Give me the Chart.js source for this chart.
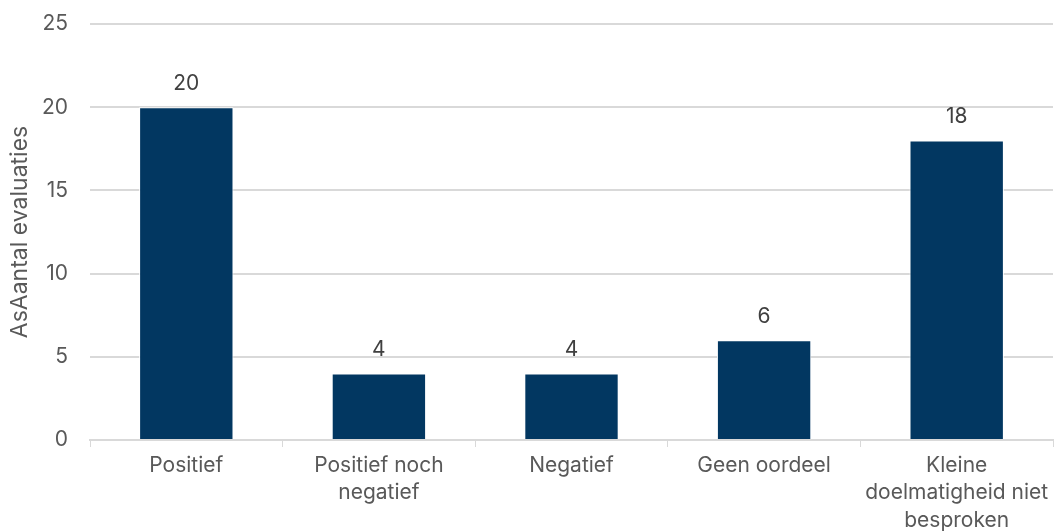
<!DOCTYPE html>
<html>
<head>
<meta charset="utf-8">
<script src="https://cdn.jsdelivr.net/npm/chart.js@4/dist/chart.umd.min.js"></script>
<style>
  html, body { margin: 0; padding: 0; background: #fff; }
  #wrap { width: 1056px; height: 532px; }
</style>
</head>
<body>
<div id="wrap"><canvas id="myChart" width="1056" height="532"></canvas></div>
<script>
const labels = [
    'Positief',
    ['Positief noch', 'negatief'],
    'Negatief',
    'Geen oordeel',
    ['Kleine', 'doelmatigheid niet', 'besproken'],
];
const evaluaties = [20, 4, 4, 6, 18];
const yTicks = [0, 5, 10, 15, 20, 25];

const textColor = '#595959';
const barColor = '#023761';
const fontSize = 21;

// simple value labels above each bar
const valueLabels = {
    id: 'valueLabels',
    afterDatasetsDraw(chart) {
        const ctx = chart.ctx;
        const meta = chart.getDatasetMeta(0);
        ctx.save();
        ctx.font = fontSize + 'px Inter';
        ctx.fillStyle = '#404040';
        ctx.textAlign = 'center';
        ctx.textBaseline = 'bottom';
        meta.data.forEach((bar, i) => {
            ctx.fillText(String(evaluaties[i]), bar.x, bar.y - 13);
        });
        ctx.restore();
    }
};

const config = {
    type: 'bar',
    data: {
        labels: labels,
        datasets: [{
            label: 'AsAantal evaluaties',
            data: evaluaties,
            backgroundColor: barColor,
            borderColor: '#ffffff',
            borderWidth: 1,
            categoryPercentage: 1,
            barPercentage: 0.49,
        }]
    },
    options: {
        responsive: false,
        animation: false,
        layout: { padding: { top: 24, right: 3, left: 0, bottom: 0 } },
        plugins: {
            legend: { display: false },
            tooltip: { enabled: false },
        },
        scales: {
            x: {
                grid: {
                    drawOnChartArea: false,
                    drawTicks: true,
                    tickLength: 7,
                    color: '#d9d9d9',
                },
                border: { color: '#d9d9d9', width: 2 },
                ticks: {
                    color: textColor,
                    font: { family: 'Inter', size: fontSize, lineHeight: 1.3 },
                    padding: 5,
                    maxRotation: 0,
                    autoSkip: false,
                },
                afterFit(scale) { scale.height = 92; }
            },
            y: {
                min: 0,
                max: 25,
                afterBuildTicks(scale) { scale.ticks = yTicks.map(v => ({ value: v })); },
                grid: { color: '#d9d9d9', lineWidth: 2, drawTicks: false },
                border: { display: false },
                ticks: {
                    color: textColor,
                    font: { family: 'Inter', size: fontSize },
                    padding: 22,
                },
                title: {
                    display: true,
                    text: 'AsAantal evaluaties',
                    color: textColor,
                    font: { family: 'Inter', size: 23 },
                    padding: { top: 6, bottom: 0 },
                },
                afterFit(scale) {
                    scale.width = 90;
                    scale.paddingTop = 0;
                    scale.paddingBottom = 0;
                }
            }
        }
    },
    plugins: [valueLabels]
};

const myChart = new Chart(
    document.getElementById('myChart'),
    config
);
</script>
</body>
</html>
